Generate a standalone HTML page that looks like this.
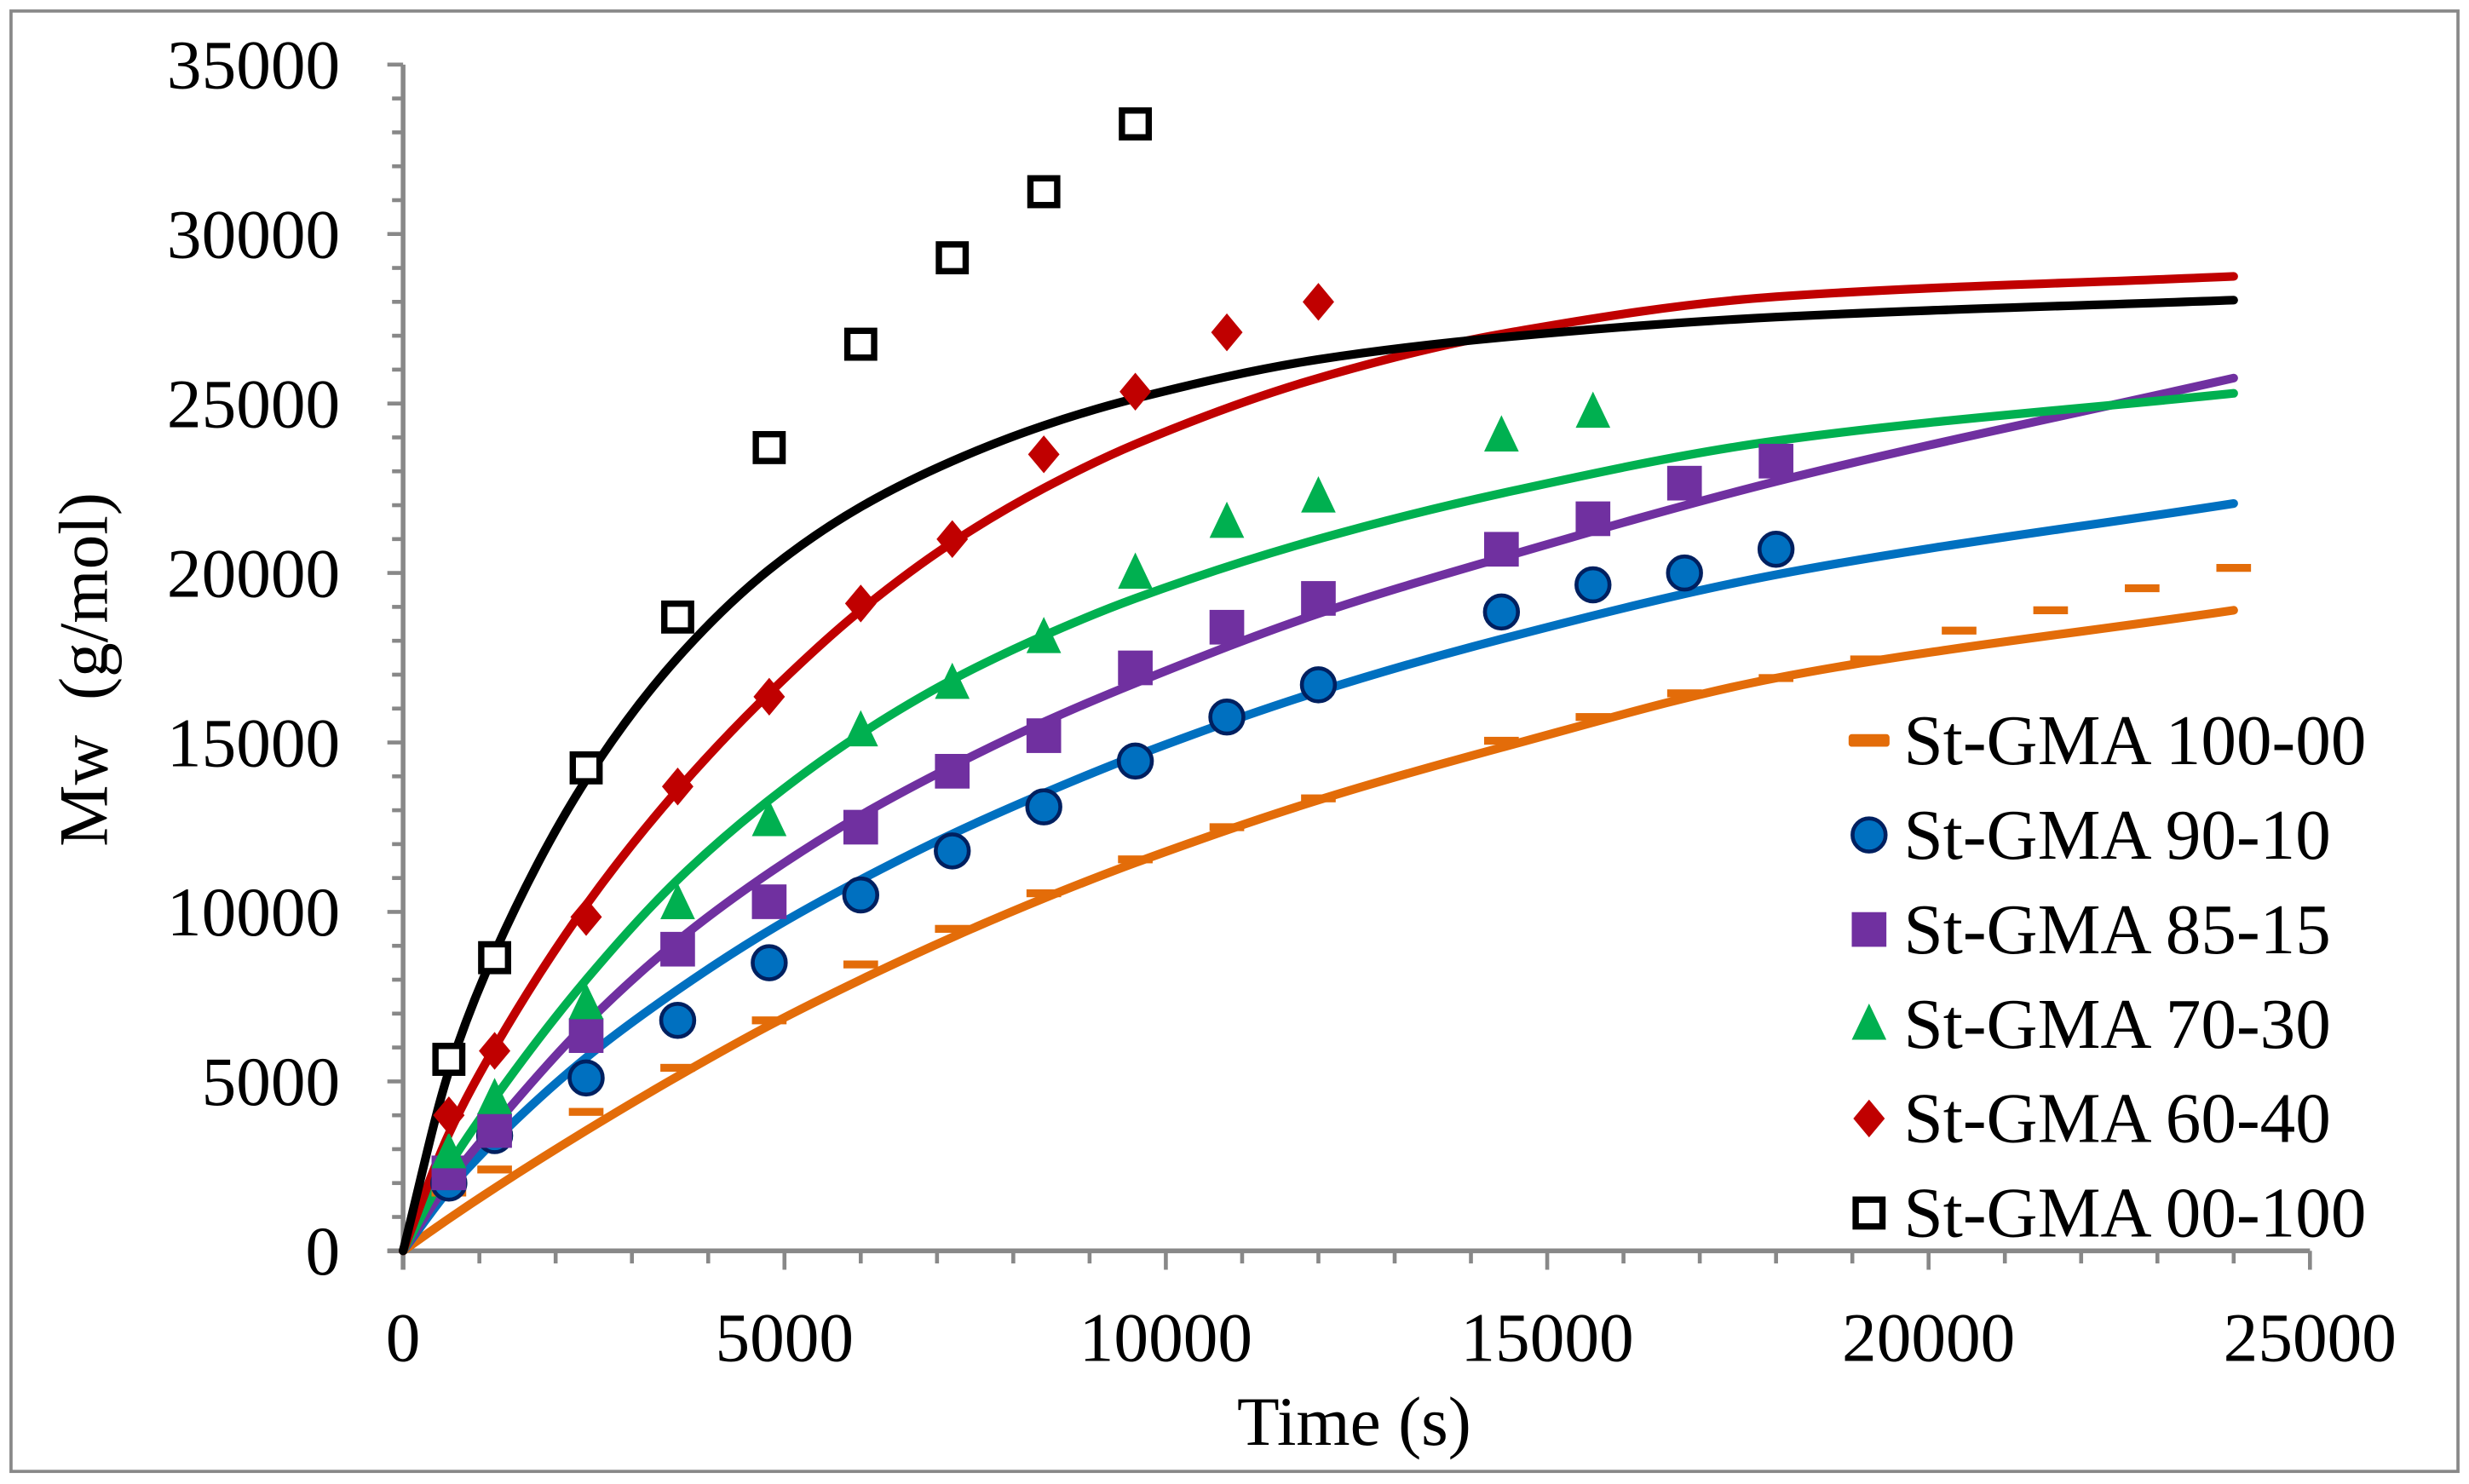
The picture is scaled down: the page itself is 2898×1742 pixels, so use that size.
<!DOCTYPE html>
<html><head><meta charset="utf-8"><style>
html,body{margin:0;padding:0;background:#fff;}
svg{display:block;}
text{font-family:"Liberation Serif",serif;fill:#000;}
</style></head><body>
<svg id="chart" width="2898" height="1742" viewBox="0 0 1568 942" preserveAspectRatio="none" xmlns="http://www.w3.org/2000/svg">
<rect x="7" y="7" width="1554" height="927" fill="#fff" stroke="#888" stroke-width="2"/>
<g id="axes"></g>
<g id="curves"></g>
<g id="points"></g>
<g id="legend"></g>
<text x="860" y="917" font-size="44" text-anchor="middle">Time (s)</text>
<text transform="translate(68,425) rotate(-90)" font-size="44" text-anchor="middle" xml:space="preserve">Mw  (g/mol)</text>
</svg>
<script>
const xTicks=[0,5000,10000,15000,20000,25000];
const yTicks=[0,5000,10000,15000,20000,25000,30000,35000];
const seriesNames=["St-GMA 100-00","St-GMA 90-10","St-GMA 85-15","St-GMA 70-30","St-GMA 60-40","St-GMA 00-100"];
const tA=[600,1200,2400,3600,4800,6000,7200,8400,9600,10800,12000,14400,15600,16800,18000,19200,20400,21600,22800,24000];
const yA=[1720,2400,4100,5400,6800,8450,9500,10550,11550,12500,13350,15050,15750,16450,16900,17450,18300,18900,19550,20150];
const tB=[600,1200,2400,3600,4800,6000,7200,8400,9600,10800,12000,14400,15600,16800,18000];
const yB=[2000,3400,5100,6800,8500,10500,11800,13100,14450,15750,16700,18850,19650,20000,20700];
const tC=[600,1200,2400,3600,4800,6000,7200,8400,9600,10800,12000,14400,15600,16800,18000];
const yC=[2300,3550,6350,8900,10300,12500,14150,15200,17200,18400,19250,20700,21600,22650,23300];
const tD=[600,1200,2400,3600,4800,6000,7200,8400,9600,10800,12000,14400,15600];
const yD=[2900,4500,7300,10250,12700,15350,16750,18100,20000,21500,22250,24050,24750];
const tE=[600,1200,2400,3600,4800,6000,7200,8400,9600,10800,12000];
const yE=[4000,5900,9850,13700,16350,19100,21000,23500,25350,27100,28000];
const tF=[600,1200,2400,3600,4800,6000,7200,8400,9600];
const yF=[5650,8650,14250,18700,23700,26750,29300,31250,33250];
const curveT=[0,600,1200,2400,3600,4800,6000,7200,8400,9600,12000,14400,18000,24000];
const curveA=[0,950,1850,3550,5150,6650,8000,9250,10400,11450,13300,14850,16900,18900];
const curveB=[0,1800,3250,5700,7700,9450,10950,12300,13500,14600,16500,18050,19950,22050];
const curveC=[0,2050,3700,6700,9150,11150,12850,14300,15600,16750,18800,20450,22700,25750];
const curveD=[0,2500,4500,8000,10950,13300,15250,16850,18150,19250,21000,22350,23900,25300];
const curveE=[0,3450,6000,10200,13600,16450,18900,20900,22500,23800,25750,27050,28150,28750];
const curveF=[0,5300,8800,13900,17500,20100,21950,23300,24350,25150,26300,26950,27550,28050];

const NS="http://www.w3.org/2000/svg";
const X0=256,X1=1467,Y0=794,Y1=41;
const sx=v=>X0+(v-0)/25000*(X1-X0);
const sy=v=>Y0-(v-0)/35000*(Y0-Y1);
function mk(tag,attrs,parent){const e=document.createElementNS(NS,tag);for(const k in attrs)e.setAttribute(k,attrs[k]);parent.appendChild(e);return e;}
const axes=document.getElementById('axes');
for(let v=0;v<=25000;v+=1000){
  const major=v%5000===0;
  const t=mk('line',{x1:sx(v),x2:sx(v),y1:Y0,y2:Y0+(major?12:8),stroke:'#888','stroke-width':2.5},axes);
  
  
}
for(let v=0;v<=35000;v+=1000){
  const major=v%5000===0;
  const t=mk('line',{x1:X0-(major?10:7),x2:X0,y1:sy(v),y2:sy(v),stroke:'#888','stroke-width':2.5},axes);
  
  
}
const ax=mk('line',{x1:X0-10,x2:X1,y1:Y0,y2:Y0,stroke:'#888','stroke-width':3},axes);


const ay=mk('line',{x1:X0,x2:X0,y1:Y1,y2:Y0+12,stroke:'#888','stroke-width':3},axes);


xTicks.forEach(v=>{const t=mk('text',{x:sx(v),y:864,'font-size':44,'text-anchor':'middle'},axes);t.textContent=v;
  
  });
yTicks.forEach(v=>{const t=mk('text',{x:216,y:sy(v)+15,'font-size':44,'text-anchor':'end'},axes);t.textContent=v;
  
  });

const colors=["#E36C09","#0070C0","#7030A0","#00B050","#C00000","#000000"];
const curves=[curveA,curveB,curveC,curveD,curveE,curveF];
const cg=document.getElementById('curves');
function monotone(xs,ys){
  const n=xs.length,d=[],m=[];
  for(let i=0;i<n-1;i++)d.push((ys[i+1]-ys[i])/(xs[i+1]-xs[i]));
  m[0]=d[0];m[n-1]=d[n-2];
  for(let i=1;i<n-1;i++){
    if(d[i-1]*d[i]<=0)m[i]=0;
    else{const h0=xs[i]-xs[i-1],h1=xs[i+1]-xs[i];const w1=2*h1+h0,w2=h1+2*h0;m[i]=(w1+w2)/(w1/d[i-1]+w2/d[i]);}
  }
  let s=`M${xs[0]},${ys[0]}`;
  for(let i=0;i<n-1;i++){const h=(xs[i+1]-xs[i])/3;
    s+=` C${xs[i]+h},${ys[i]+m[i]*h} ${xs[i+1]-h},${ys[i+1]-m[i+1]*h} ${xs[i+1]},${ys[i+1]}`;}
  return s;}
curves.forEach((c,i)=>{
  const xs=curveT.map(sx),ys=c.map(sy);
  const p=mk('path',{d:monotone(xs,ys),fill:'none',stroke:colors[i],'stroke-width':5.5,'stroke-linecap':'round'},cg);
  
  });

function marker(type,x,y,g){let e;
  if(type===0)e=mk('rect',{x:x-13,y:y-4,width:26,height:8,rx:2,fill:colors[0]},g);
  else if(type===1)e=mk('circle',{cx:x,cy:y,r:10.5,fill:colors[1],stroke:'#002060','stroke-width':2.5},g);
  else if(type===2)e=mk('rect',{x:x-11,y:y-11,width:22,height:22,fill:colors[2]},g);
  else if(type===3)e=mk('polygon',{points:`${x},${y-13} ${x+11},${y+10} ${x-11},${y+10}`,fill:colors[3]},g);
  else if(type===4)e=mk('polygon',{points:`${x},${y-12} ${x+10},${y} ${x},${y+12} ${x-10},${y}`,fill:colors[4]},g);
  else e=mk('rect',{x:x-8.5,y:y-8.5,width:17,height:17,fill:'#fff',stroke:'#000','stroke-width':4},g);
  return e;}
const pg=document.getElementById('points');
const sets=[[tA,yA],[tB,yB],[tC,yC],[tD,yD],[tE,yE],[tF,yF]];
sets.forEach((s,i)=>{s[0].forEach((t,j)=>{
  const px=sx(t),py=sy(s[1][j]);
  const m=i===0?mk('rect',{x:px-11,y:py-2.5,width:22,height:5,fill:colors[0]},pg):marker(i,px,py,pg);
  
  });});

const lg=document.getElementById('legend');
seriesNames.forEach((n,i)=>{const y=470+i*60;
  const m=marker(i,1187,y,lg);
  
  
  const t=mk('text',{x:1209,y:y+15,'font-size':45},lg);t.textContent=n;
  
  });
</script>
</body></html>
